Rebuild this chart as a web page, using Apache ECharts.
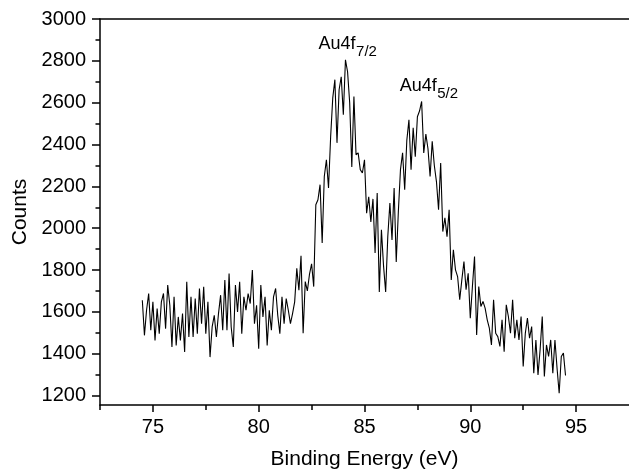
<!DOCTYPE html>
<html><head><meta charset="utf-8">
<script src="https://cdn.jsdelivr.net/npm/echarts@6/dist/echarts.min.js"></script>
<style>html,body{margin:0;padding:0;background:#fff}#c{width:629px;height:470px}</style>
</head><body><div id="c"></div>
<script>
// Binding-energy scan: 74.5 eV to 94.5 eV in 0.1 eV steps
const scanStart = 74.5;
const scanStep = 0.1;
// Counts, one value per step
const countsBackground = [ // 74.5 - 82.4
  1656,1488,1608,1688,1512,1648,1464,1616,1496,1648,
  1688,1520,1728,1632,1432,1672,1440,1576,1464,1592,
  1408,1744,1480,1672,1480,1664,1496,1712,1544,1720,
  1496,1648,1384,1528,1584,1480,1592,1680,1512,1752,
  1512,1784,1528,1432,1728,1600,1744,1496,1672,1608,
  1688,1640,1800,1544,1632,1424,1728,1576,1672,1440,
  1608,1512,1672,1712,1584,1496,1672,1544,1664,1608,
  1544,1592,1648,1808,1704,1868,1498,1745,1700,1780
];
const countsPeak72 = [ // 82.5 - 85.4
  1830,1721,2112,2136,2208,1929,2247,2327,2192,2437,
  2623,2710,2408,2662,2724,2542,2805,2748,2600,2293,
  2630,2351,2360,2280,2264,2327,2072,2150,2030,2140
];
const countsPeak52 = [ // 85.5 - 89.4
  1882,2168,1695,1992,1820,1695,1959,2120,1944,2192,
  1839,2080,2280,2360,2184,2420,2518,2280,2480,2342,
  2533,2560,2606,2360,2450,2380,2247,2415,2300,2223,
  2088,2312,1984,2050,1960,2088,1753,1897,1801,1769
];
const countsTail = [ // 89.5 - 94.5
  1658,1753,1841,1706,1785,1570,1721,1865,1490,1721,
  1626,1650,1618,1562,1522,1442,1658,1498,1482,1435,
  1562,1410,1634,1578,1498,1658,1474,1562,1466,1578,
  1339,1498,1570,1474,1530,1307,1466,1299,1420,1578,
  1291,1442,1387,1466,1307,1466,1331,1211,1387,1403,
  1296
];
const xTicks = [75, 80, 85, 90, 95];
const xMinorTicks = [72.5, 77.5, 82.5, 87.5, 92.5];
const yTicks = [1200, 1400, 1600, 1800, 2000, 2200, 2400, 2600, 2800, 3000];
const yMinorTicks = [1300, 1500, 1700, 1900, 2100, 2300, 2500, 2700, 2900];
const peakNotes = [
  { main: 'Au4f', sub: '7/2', x: 82.83, y: 2880 },
  { main: 'Au4f', sub: '5/2', x: 86.66, y: 2680 }
];

const counts = countsBackground.concat(countsPeak72, countsPeak52, countsTail);
const seriesData = counts.map((c, i) => [+(scanStart + i * scanStep).toFixed(2), c]);

const FONT = '"Liberation Sans", Arial, sans-serif';
const INK = '#000';
const AXW = 1.5;
const plain = v => String(v);

const chart = echarts.init(document.getElementById('c'), null, { renderer: 'canvas' });
const baseX = { type: 'value', min: 72.5, max: 97.5, splitLine: { show: false } };
const baseY = { type: 'value', min: 1155, max: 3000, splitLine: { show: false } };

chart.setOption({
  animation: false,
  backgroundColor: '#fff',
  grid: { left: 100, top: 19, width: 529, height: 386, containLabel: false, outerBoundsMode: 'none' },
  xAxis: [
    Object.assign({}, baseX, {
      position: 'bottom',
      name: 'Binding Energy (eV)', nameLocation: 'middle', nameGap: 44,
      nameTextStyle: { fontFamily: FONT, fontSize: 21, color: INK },
      axisLine: { show: true, onZero: false, lineStyle: { color: INK, width: AXW } },
      axisTick: { show: true, length: 7, customValues: xTicks, lineStyle: { color: INK, width: AXW } },
      axisLabel: { show: true, customValues: xTicks, formatter: plain, margin: 12, fontFamily: FONT, fontSize: 20, color: INK }
    }),
    Object.assign({}, baseX, {
      position: 'bottom',
      axisLine: { show: false, onZero: false },
      axisTick: { show: true, length: 5, customValues: xMinorTicks, lineStyle: { color: INK, width: AXW } },
      axisLabel: { show: false }
    }),
    Object.assign({}, baseX, {
      position: 'top',
      axisLine: { show: true, onZero: false, lineStyle: { color: INK, width: AXW } },
      axisTick: { show: false }, axisLabel: { show: false }
    })
  ],
  yAxis: [
    Object.assign({}, baseY, {
      position: 'left',
      name: 'Counts', nameLocation: 'middle', nameGap: 69,
      nameTextStyle: { fontFamily: FONT, fontSize: 21, color: INK },
      axisLine: { show: true, onZero: false, lineStyle: { color: INK, width: AXW } },
      axisTick: { show: true, length: 8, customValues: yTicks, lineStyle: { color: INK, width: AXW } },
      axisLabel: { show: true, customValues: yTicks, formatter: plain, margin: 14, fontFamily: FONT, fontSize: 20, color: INK }
    }),
    Object.assign({}, baseY, {
      position: 'left',
      axisLine: { show: false, onZero: false },
      axisTick: { show: true, length: 4.5, customValues: yMinorTicks, lineStyle: { color: INK, width: AXW } },
      axisLabel: { show: false }
    })
  ],
  series: [{
    type: 'line', xAxisIndex: 0, yAxisIndex: 0,
    data: seriesData, symbol: 'none', smooth: false,
    lineStyle: { color: '#000', width: 1.1 }
  }]
});

// Peak annotations anchored in data coordinates
const ctx = document.createElement('canvas').getContext('2d');
const graphics = [];
peakNotes.forEach(n => {
  const p = chart.convertToPixel({ gridIndex: 0 }, [n.x, n.y]);
  ctx.font = '18px ' + FONT;
  const w = ctx.measureText(n.main).width;
  graphics.push({
    type: 'text', x: p[0], y: p[1],
    style: { text: n.main, fontFamily: FONT, fontSize: 18, fill: INK,
      align: 'left', verticalAlign: 'middle', textAlign: 'left', textVerticalAlign: 'middle' }
  });
  graphics.push({
    type: 'text', x: p[0] + w + 0.5, y: p[1] + 8,
    style: { text: n.sub, fontFamily: FONT, fontSize: 15, fill: INK,
      align: 'left', verticalAlign: 'middle', textAlign: 'left', textVerticalAlign: 'middle' }
  });
});
chart.setOption({ graphic: graphics });
</script>
</body></html>
